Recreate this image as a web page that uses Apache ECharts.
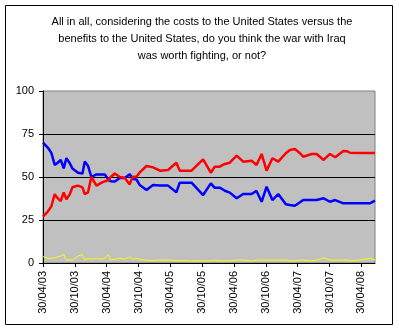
<!DOCTYPE html>
<html>
<head>
<meta charset="utf-8">
<script src="https://cdn.jsdelivr.net/npm/echarts@6/dist/echarts.min.js"></script>
<style>
  html, body { margin: 0; padding: 0; background: #fff; }
  #chart { width: 399px; height: 330px; }
</style>
</head>
<body>
<div id="chart"></div>
<script>
// Poll dates (YYYY-MM-DD)
const pollDates = [
  '2003-04-30','2003-05-28','2003-06-17','2003-07-06','2003-07-20','2003-08-10','2003-08-27','2003-09-12',
  '2003-10-01','2003-10-16','2003-11-18','2003-12-13','2003-12-26','2004-01-14','2004-02-03','2004-03-02',
  '2004-03-31','2004-04-19','2004-05-08','2004-05-23','2004-06-16','2004-07-14','2004-08-12','2004-09-10',
  '2004-09-27','2004-10-18','2004-11-07','2004-12-15','2005-01-22','2005-03-01','2005-04-17','2005-06-04',
  '2005-06-23','2005-08-30','2005-11-05','2005-12-19','2006-01-11','2006-02-09','2006-03-08','2006-04-06',
  '2006-05-15','2006-06-22','2006-08-09','2006-09-07','2006-10-06','2006-11-04','2006-12-07','2007-01-10',
  '2007-02-23','2007-03-16','2007-04-14','2007-05-13','2007-06-01','2007-07-19','2007-08-17','2007-09-27',
  '2007-11-02','2007-12-02','2008-01-18','2008-02-08','2008-02-26','2008-04-22','2008-06-18','2008-07-17'
];

// Not worth fighting (%)
const notWorth = [
  27, 30, 33, 40, 38, 36, 41, 37,
  40, 44, 45, 44, 40, 41, 50, 45,
  46.7, 47.5, 48, 50, 52, 50, 49.4, 45.7,
  50.2, 50.2, 52.7, 56.4, 55.6, 53.7, 54.1, 58.3,
  53.7, 53.7, 60.3, 52.5, 56, 56, 57.6, 58.3,
  62.4, 58.9, 59.5, 57, 63.4, 53.7, 60.9, 58.9,
  63.8, 65.7, 66.3, 63.8, 61.8, 63.4, 63.4, 59.9,
  63.4, 61.5, 65.1, 65, 64.1, 64, 64, 64
];

// Worth fighting (%)
const worth = [
  70, 67, 64, 57, 58, 60, 55, 61,
  58, 55, 52.5, 52, 59, 56.6, 50, 51.5,
  51.5, 51.5, 48.8, 47.5, 47.4, 49.4, 49.4, 51.6,
  49, 48.6, 45.3, 42.4, 45.3, 45, 45, 41.1,
  46.7, 46.7, 39.5, 46.3, 43.7, 43.8, 42, 40.9,
  37.6, 40.1, 40.1, 41.9, 35.6, 44.4, 36.6, 40.1,
  34.1, 33.7, 33.3, 35.3, 36.6, 36.6, 36.6, 37.6,
  35.6, 36.6, 34.7, 34.7, 34.7, 34.7, 34.7, 36.2
];

// No opinion (%)
const noOpinion = [
  3.7, 2.7, 2.7, 3, 3.5, 4, 5, 1.7,
  1.7, 1.7, 4, 5, 1.7, 2.7, 2.2, 2.7,
  2.2, 2.7, 5, 1.7, 2.2, 2.7, 2.2, 3.6,
  2.2, 2.7, 2.2, 1.5, 1.4, 1.7, 1.7, 1.4,
  1.4, 1.2, 1.2, 1.2, 1.7, 1.2, 1.2, 1.2,
  1.7, 1.7, 1.2, 1.7, 1.7, 1.7, 1.7, 1.7,
  1.7, 1.2, 1.2, 1.7, 1.7, 1.2, 1.7, 3,
  1.7, 1.7, 1.7, 1.7, 1.2, 1.7, 2.7, 1.7
];

// Half-year tick labels along the date axis (one every 6 months)
const xTickLabels = [
  '30/04/03','30/10/03','30/04/04','30/10/04','30/04/05','30/10/05',
  '30/04/06','30/10/06','30/04/07','30/10/07','30/04/08'
];
const yTickLabels = ['0', '25', '50', '75', '100'];

const titleLines = [
  'All in all, considering the costs to the United States versus the',
  'benefits to the United States, do you think the war with Iraq',
  'was worth fighting, or not?'
];

// Months elapsed since 30 April 2003
function monthsFromStart(s) {
  const [y, m, d] = s.split('-').map(Number);
  return (y - 2003) * 12 + (m - 4) + (d - 30) / 30.4;
}
const xs = pollDates.map(monthsFromStart);
const pairs = vals => vals.map((v, i) => [xs[i], v]);

const FONT = '"Liberation Sans", Arial, sans-serif';
const tickVals = xTickLabels.map((_, i) => i * 6);

const chart = echarts.init(document.getElementById('chart'), null, { renderer: 'canvas' });
chart.setOption({
  animation: false,
  backgroundColor: '#ffffff',
  title: {
    text: titleLines.join('\n'),
    left: 197, top: 8, textAlign: 'center',
    textStyle: { fontFamily: FONT, fontSize: 11, fontWeight: 'normal', color: '#000', lineHeight: 17 }
  },
  graphic: [{
    type: 'rect', silent: true, z: -1,
    shape: { x: 5.5, y: 5.5, width: 387, height: 319 },
    style: { fill: 'none', stroke: '#000', lineWidth: 1 }
  }],
  grid: {
    left: 43, top: 91, width: 332, height: 172,
    show: true, backgroundColor: '#C0C0C0', borderColor: '#808080', borderWidth: 1
  },
  xAxis: {
    type: 'value', min: 0, max: 62.58, interval: 6,
    splitLine: { show: false },
    axisLine: { lineStyle: { color: '#000', width: 1 } },
    axisTick: { show: true, length: 4, lineStyle: { color: '#000' }, customValues: tickVals },
    axisLabel: {
      customValues: tickVals,
      rotate: 90, margin: 8, color: '#000', fontFamily: FONT, fontSize: 11,
      formatter: v => xTickLabels[Math.round(v / 6)] || ''
    }
  },
  yAxis: {
    type: 'value', min: 0, max: 100, interval: 25,
    axisLine: { show: true, lineStyle: { color: '#000', width: 1 } },
    axisTick: { show: true, length: 4, lineStyle: { color: '#000' } },
    axisLabel: {
      margin: 9, color: '#000', fontFamily: FONT, fontSize: 11,
      formatter: v => yTickLabels[Math.round(v / 25)]
    },
    splitLine: { show: true, showMinLine: false, showMaxLine: false, lineStyle: { color: '#000', width: 1 } }
  },
  series: [
    { type: 'line', data: pairs(noOpinion), showSymbol: false, lineStyle: { color: '#FFFF00', width: 1 }, z: 2 },
    { type: 'line', data: pairs(worth), showSymbol: false, lineStyle: { color: '#0000FF', width: 2.5 }, z: 3 },
    { type: 'line', data: pairs(notWorth), showSymbol: false, lineStyle: { color: '#FF0000', width: 2.5 }, z: 4 }
  ]
});
</script>
</body>
</html>
